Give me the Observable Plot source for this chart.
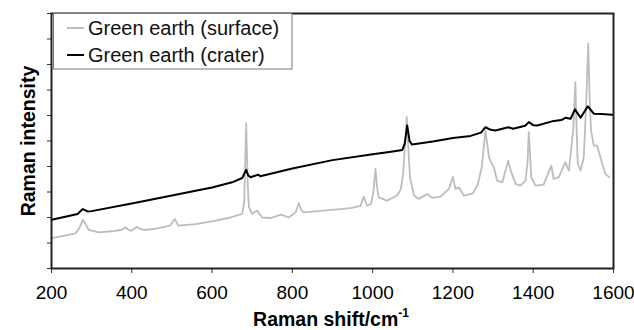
<!DOCTYPE html>
<html>
<head>
<meta charset="utf-8">
<script src="https://cdn.jsdelivr.net/npm/d3@7"></script>
<script src="https://cdn.jsdelivr.net/npm/@observablehq/plot@0.6"></script>
<style>
  body { margin: 0; background: #fff; }
  #chart svg { display: block; }
</style>
</head>
<body>
<div id="chart"></div>
<script>
// Raman shift (cm-1) and intensity (arbitrary units) — crater spectrum
const craterShift = [200,240,265,278,290,300,400,500,559,600,650,675,685,690,696,715,720,800,900,1000,1050,1074,1080,1086,1092,1098,1150,1200,1244,1270,1281,1294,1306,1338,1350,1360,1380,1389,1400,1410,1447,1470,1480,1493,1504,1518,1536,1551,1570,1597];
const craterValue = [1.91,2.05,2.14,2.33,2.24,2.25,2.55,2.86,3.05,3.18,3.38,3.55,3.87,3.65,3.58,3.68,3.62,3.92,4.25,4.48,4.59,4.65,4.9,5.61,5.0,4.86,4.98,5.12,5.20,5.33,5.54,5.44,5.41,5.54,5.48,5.52,5.6,5.74,5.62,5.61,5.77,5.82,5.91,5.87,6.24,5.91,6.36,6.07,6.06,6.03];

// Surface spectrum
const surfaceShift = [200,230,260,270,278,285,293,318,351,375,384,392,399,413,420,434,460,484,495,507,516,559,600,646,675,680,685,689,692,700,712,725,746,772,791,808,816,822,829,878,920,945,970,978,986,996,1002,1007,1011,1015,1036,1061,1070,1076,1085,1090,1093,1103,1115,1136,1148,1169,1190,1200,1206,1215,1227,1250,1262,1272,1281,1290,1295,1302,1310,1323,1338,1344,1356,1368,1381,1386,1389,1393,1395,1406,1426,1445,1451,1464,1480,1489,1500,1505,1509,1511,1518,1526,1532,1537,1541,1544,1551,1559,1565,1572,1580,1589];
const surfaceValue = [1.19,1.28,1.38,1.6,1.91,1.75,1.51,1.42,1.46,1.52,1.61,1.52,1.48,1.64,1.55,1.51,1.56,1.64,1.68,1.94,1.68,1.74,1.85,2.0,2.14,2.6,5.70,3.2,2.40,2.14,2.27,2.0,1.98,2.11,2.0,2.2,2.56,2.3,2.20,2.27,2.33,2.37,2.46,2.82,2.46,2.53,3.0,3.91,3.2,2.79,2.66,2.86,3.1,3.71,5.94,4.4,3.58,2.86,2.73,2.92,2.77,2.82,3.12,3.60,3.12,3.18,2.86,2.95,3.3,4.0,5.41,4.36,4.17,3.97,3.45,3.38,4.23,3.84,3.32,3.25,3.45,4.2,5.35,4.2,3.58,3.25,3.29,4.04,3.51,3.58,4.17,3.84,5.5,7.31,5.0,4.10,3.84,4.36,6.5,8.82,6.5,5.41,4.82,4.82,4.5,4.10,3.71,3.58];

const seriesNames = ["Green earth (surface)", "Green earth (crater)"];
const seriesColors = ["#bdbdbd", "#000000"];
const xTicks = [200,400,600,800,1000,1200,1400,1600];
const yTicks = [0,1,2,3,4,5,6,7,8,9,10];
const xLabel = "Raman shift/cm";
const xLabelSup = "-1";
const yLabel = "Raman intensity";

const surface = surfaceShift.map((x, i) => ({x, y: surfaceValue[i]}));
const crater = craterShift.map((x, i) => ({x, y: craterValue[i]}));

const FONT = "'Liberation Sans', Arial, sans-serif";

const svg = Plot.plot({
  width: 634,
  height: 330,
  marginLeft: 51,
  marginRight: 21,
  marginTop: 13,
  marginBottom: 62,
  style: {fontFamily: FONT, background: "#fff", color: "#000"},
  x: {domain: [200, 1600]},
  y: {domain: [0, 10]},
  marks: [
    Plot.line(surface, {x: "x", y: "y", stroke: seriesColors[0], strokeWidth: 1.8}),
    Plot.line(crater, {x: "x", y: "y", stroke: seriesColors[1], strokeWidth: 2}),
    Plot.axisX({ticks: xTicks, tickSize: 5, tickPadding: 12, fontSize: 19, label: null, tickFormat: d => String(d), stroke: "#333"}),
    Plot.axisY({ticks: yTicks, tickSize: 4, tickFormat: () => "", label: null, stroke: "#333"}),
    Plot.frame({stroke: "#222", strokeWidth: 2})
  ]
});

document.getElementById("chart").appendChild(svg);

const s = d3.select(svg);
// x label with superscript
const xt = s.append("text")
  .attr("x", 331).attr("y", 326)
  .attr("text-anchor", "middle")
  .attr("font-family", FONT).attr("font-weight", "bold").attr("font-size", 19.5)
  .attr("fill", "#000");
xt.append("tspan").text(xLabel);
xt.append("tspan").attr("dy", -9).attr("font-size", 12).text(xLabelSup);

// y label
s.append("text")
  .attr("transform", "translate(35,141) rotate(-90)")
  .attr("text-anchor", "middle")
  .attr("font-family", FONT).attr("font-weight", "bold").attr("font-size", 19.5)
  .attr("fill", "#000")
  .text(yLabel);

// legend
const lg = s.append("g");
lg.append("rect").attr("x", 53.5).attr("y", 13.5).attr("width", 238.5).attr("height", 55.5)
  .attr("fill", "#fff").attr("stroke", "#777").attr("stroke-width", 1);
const rows = [28, 55];
seriesNames.forEach((name, i) => {
  lg.append("line").attr("x1", 67).attr("x2", 84).attr("y1", rows[i]).attr("y2", rows[i])
    .attr("stroke", seriesColors[i]).attr("stroke-width", 2);
  lg.append("text").attr("x", 88).attr("y", rows[i]).attr("dy", "0.35em")
    .attr("text-anchor", "start")
    .attr("font-family", FONT).attr("font-size", 20).attr("fill", "#111").text(name);
});
</script>
</body>
</html>
